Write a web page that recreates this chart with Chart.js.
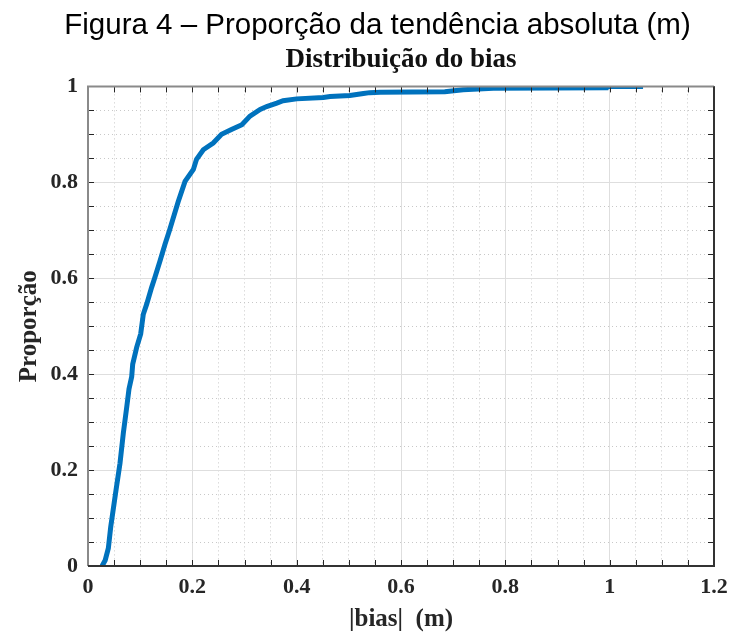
<!DOCTYPE html>
<html>
<head>
<meta charset="utf-8">
<script src="https://cdn.jsdelivr.net/npm/chart.js@4/dist/chart.umd.min.js"></script>
<style>
  body { margin: 0; background: #fff; }
  #wrap { width: 729px; height: 635px; }
</style>
</head>
<body>
<div id="wrap"><canvas id="myChart" width="729" height="635"></canvas></div>
<script>
// |bias| (m) and cumulative proportion
const biasValues = [
  0.027, 0.033, 0.039, 0.0435, 0.0537, 0.0613, 0.0677, 0.0742, 0.0786, 0.0838,
  0.0857, 0.0933, 0.101, 0.106, 0.1125, 0.122, 0.128, 0.138, 0.1476, 0.156,
  0.173, 0.186, 0.202, 0.208, 0.221, 0.240, 0.256, 0.275, 0.295, 0.3105,
  0.330, 0.3425, 0.362, 0.374, 0.40, 0.451, 0.464, 0.502, 0.528, 0.54,
  0.56, 0.684, 0.719, 0.777, 0.994, 0.995, 1.064
];
const proportionValues = [
  0.0, 0.012, 0.037, 0.081, 0.158, 0.214, 0.277, 0.331, 0.369, 0.395,
  0.421, 0.456, 0.484, 0.525, 0.546, 0.581, 0.601, 0.636, 0.671, 0.699,
  0.760, 0.802, 0.827, 0.848, 0.868, 0.882, 0.900, 0.910, 0.920, 0.938,
  0.952, 0.958, 0.965, 0.970, 0.974, 0.977, 0.979, 0.981, 0.985, 0.987,
  0.988, 0.989, 0.993, 0.996, 0.997, 1.0, 1.0
];
const xTickLabels = ["0", "0.2", "0.4", "0.6", "0.8", "1", "1.2"];
const yTickLabels = ["0", "0.2", "0.4", "0.6", "0.8", "1"];
const figureTitle = "Figura 4 – Proporção da tendência absoluta (m)";

const serif = "'Liberation Serif', 'Times New Roman', serif";
const isMajor = (v) => Math.abs(v / 0.2 - Math.round(v / 0.2)) < 1e-6;

// figure caption sits a bit left of the plot centre, so it is drawn here
const captionPlugin = {
  id: "captionPlugin",
  afterDraw(chart) {
    const c = chart.ctx;
    c.save();
    c.fillStyle = "#000";
    c.font = "29.5px 'Liberation Sans', Arial, sans-serif";
    c.textAlign = "center";
    c.textBaseline = "middle";
    c.fillText(figureTitle, 377.5, 26);
    c.restore();
  },
};

// box round the axes and inward ticks on all four sides
const boxPlugin = {
  id: "boxPlugin",
  afterDraw(chart) {
    const { ctx, chartArea: a } = chart;
    const xs = chart.scales.xMinor;
    const ys = chart.scales.yMinor;
    ctx.save();
    ctx.strokeStyle = "#262626";
    ctx.lineWidth = 1;
    ctx.beginPath();
    xs.ticks.forEach((t) => {
      const px = Math.round(xs.getPixelForValue(t.value)) + 0.5;
      ctx.moveTo(px, a.bottom);
      ctx.lineTo(px, a.bottom - 6);
      ctx.moveTo(px, a.top);
      ctx.lineTo(px, a.top + 6);
    });
    ys.ticks.forEach((t) => {
      const py = Math.round(ys.getPixelForValue(t.value)) + 0.5;
      ctx.moveTo(a.left, py);
      ctx.lineTo(a.left + 6, py);
      ctx.moveTo(a.right, py);
      ctx.lineTo(a.right - 6, py);
    });
    ctx.stroke();
    ctx.lineWidth = 2;
    ctx.strokeStyle = "#8a8a8a";
    ctx.beginPath();
    ctx.moveTo(a.left, a.bottom);
    ctx.lineTo(a.left, a.top);
    ctx.lineTo(a.right, a.top);
    ctx.stroke();
    ctx.strokeStyle = "#333";
    ctx.beginPath();
    ctx.moveTo(a.left, a.bottom);
    ctx.lineTo(a.right, a.bottom);
    ctx.lineTo(a.right, a.top);
    ctx.stroke();
    ctx.restore();
  },
};

const ctx = document.getElementById("myChart").getContext("2d");

const myChart = new Chart(ctx, {
  type: "line",
  data: {
    datasets: [
      {
        data: biasValues.map((x, i) => ({ x: x, y: proportionValues[i] })),
        borderColor: "#0072BD",
        borderWidth: 5,
        pointRadius: 0,
        tension: 0,
        fill: false,
      },
    ],
  },
  options: {
    responsive: false,
    animation: false,
    layout: { padding: { left: 0, right: 0, top: 44, bottom: 0 } },
    plugins: {
      legend: { display: false },
      tooltip: { enabled: false },
      title: { display: false },
      subtitle: {
        display: true,
        fullSize: false,
        text: "Distribuição do bias",
        color: "#111",
        font: { family: serif, size: 27, weight: "bold" },
        padding: { top: 0, bottom: 10 },
      },
    },
    scales: {
      x: {
        type: "linear",
        min: 0,
        max: 1.2,
        afterFit: (scale) => {
          scale.height = 69;
          scale.paddingRight = 15;
        },
        ticks: {
          stepSize: 0.2,
          padding: 8,
          color: "#262626",
          font: { family: serif, size: 22, weight: "bold" },
          callback: (v, i) => xTickLabels[i],
          maxRotation: 0,
        },
        grid: { color: "#dedede", lineWidth: 1, drawTicks: false },
        border: { display: false },
        title: {
          display: true,
          text: "|bias|  (m)",
          color: "#262626",
          font: { family: serif, size: 25, weight: "bold" },
          padding: { top: 6, bottom: 0 },
        },
      },
      xMinor: {
        type: "linear",
        position: "bottom",
        min: 0,
        max: 1.2,
        display: true,
        afterFit: (scale) => {
          scale.height = 0;
          scale.paddingRight = 15;
        },
        ticks: { stepSize: 0.05, display: false },
        grid: {
          color: (c) => (isMajor(c.tick.value) ? "rgba(0,0,0,0)" : "#c8c8c8"),
          lineWidth: 1,
          drawTicks: false,
        },
        border: { display: false, dash: [1, 3] },
      },
      y: {
        type: "linear",
        min: 0,
        max: 1,
        afterFit: (scale) => { scale.width = 88; },
        ticks: {
          stepSize: 0.2,
          padding: 10,
          color: "#262626",
          font: { family: serif, size: 22, weight: "bold" },
          callback: (v, i) => yTickLabels[i],
        },
        grid: { color: "#dedede", lineWidth: 1, drawTicks: false },
        border: { display: false },
        title: {
          display: true,
          text: "Proporção",
          color: "#262626",
          font: { family: serif, size: 25, weight: "bold" },
          padding: { top: 15, bottom: 8 },
        },
      },
      yMinor: {
        type: "linear",
        position: "left",
        min: 0,
        max: 1,
        display: true,
        afterFit: (scale) => { scale.width = 0; },
        ticks: { stepSize: 0.05, display: false },
        grid: {
          color: (c) => (isMajor(c.tick.value) ? "rgba(0,0,0,0)" : "#c8c8c8"),
          lineWidth: 1,
          drawTicks: false,
        },
        border: { display: false, dash: [1, 3] },
      },
    },
  },
  plugins: [boxPlugin, captionPlugin],
});
</script>
</body>
</html>
